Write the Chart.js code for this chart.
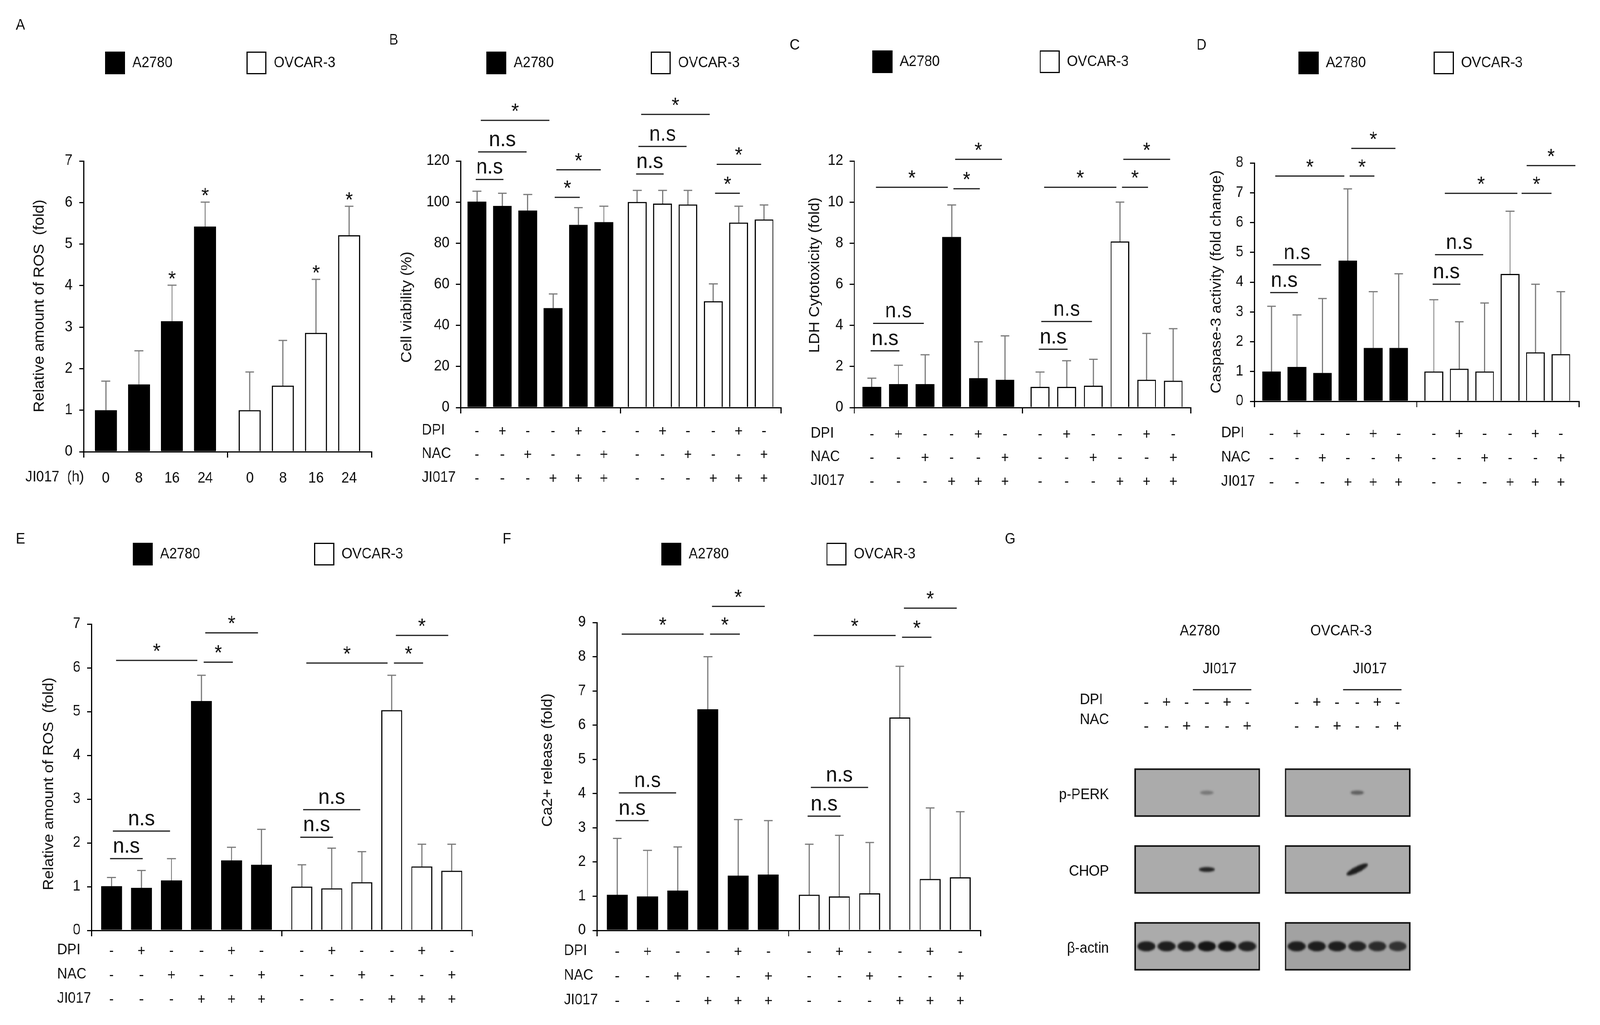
<!DOCTYPE html>
<html><head><meta charset="utf-8">
<script src="https://cdn.jsdelivr.net/npm/chart.js"></script>
<style>
html,body{margin:0;padding:0;background:#fff;overflow:hidden;}
#fig{position:absolute;left:0;top:0;width:4389px;height:2623px;transform-origin:0 0;background:#fff;}
#fig canvas{position:absolute;}
</style>
</head><body>
<div id="fig"></div>
<script>
// ================= DATA =================
const cellLines = ['A2780', 'OVCAR-3'];

// Panel A: ROS time course
const timeLabels = ['0', '8', '16', '24'];
const timeRowTitle = 'JI017  (h)';
const rosTimeTicks = [0, 1, 2, 3, 4, 5, 6, 7];
const rosTimeA2780 = [1.0, 1.62, 3.14, 5.42];
const rosTimeA2780SD = [0.70, 0.81, 0.87, 0.59];
const rosTimeOVCAR3 = [1.0, 1.59, 2.86, 5.21];
const rosTimeOVCAR3SD = [0.92, 1.09, 1.29, 0.70];
const rosTimeSig = ['', '', '*', '*'];

// Treatment table (B-F, G)
const treatmentNames = ['DPI', 'NAC', 'JI017'];
const dpiRow = ['-', '+', '-', '-', '+', '-'];
const nacRow = ['-', '-', '+', '-', '-', '+'];
const ji017Row = ['-', '-', '-', '+', '+', '+'];

// Panel B: cell viability (%)
const viabilityTicks = [0, 20, 40, 60, 80, 100, 120];
const viabilityA2780 = [100.2, 98.1, 95.9, 48.4, 88.9, 90.2];
const viabilityA2780SD = [5.1, 6.2, 7.8, 6.9, 8.4, 7.8];
const viabilityOVCAR3 = [100.0, 99.2, 98.8, 51.7, 90.0, 91.5];
const viabilityOVCAR3SD = [5.7, 6.5, 6.9, 8.5, 8.0, 7.1];
const viabilitySig = [
  [0, 0, 1, 111, 'n.s'], [0, 0, 2, 124.4, 'n.s'], [0, 0, 3, 139.8, '*'], [0, 3, 4, 102.3, '*'], [0, 3, 5, 115.7, '*'],
  [1, 0, 1, 113.7, 'n.s'], [1, 0, 2, 127.1, 'n.s'], [1, 0, 3, 142.7, '*'], [1, 3, 4, 104.3, '*'], [1, 3, 5, 118.4, '*']];

// Panel C: LDH cytotoxicity (fold)
const ldhTicks = [0, 2, 4, 6, 8, 10, 12];
const ldhA2780 = [1.0, 1.14, 1.14, 8.3, 1.43, 1.35];
const ldhA2780SD = [0.43, 0.92, 1.43, 1.56, 1.77, 2.14];
const ldhOVCAR3 = [1.0, 1.0, 1.06, 8.08, 1.35, 1.3];
const ldhOVCAR3SD = [0.73, 1.28, 1.29, 1.92, 2.26, 2.54];
const ldhSig = [
  [0, 0, 1, 2.76, 'n.s'], [0, 0, 2, 4.1, 'n.s'], [0, 0, 3, 10.72, '*'], [0, 3, 4, 10.65, '*'], [0, 3, 5, 12.08, '*'],
  [1, 0, 1, 2.84, 'n.s'], [1, 0, 2, 4.19, 'n.s'], [1, 0, 3, 10.72, '*'], [1, 3, 4, 10.72, '*'], [1, 3, 5, 12.08, '*']];

// Panel D: caspase-3 activity (fold change)
const caspaseTicks = [0, 1, 2, 3, 4, 5, 6, 7, 8];
const caspaseA2780 = [1.0, 1.15, 0.95, 4.72, 1.79, 1.79];
const caspaseA2780SD = [2.19, 1.75, 2.5, 2.41, 1.89, 2.49];
const caspaseOVCAR3 = [1.0, 1.09, 1.0, 4.27, 1.64, 1.58];
const caspaseOVCAR3SD = [2.41, 1.58, 2.3, 2.11, 2.29, 2.1];
const caspaseSig = [
  [0, 0, 1, 3.65, 'n.s'], [0, 0, 2, 4.58, 'n.s'], [0, 0, 3, 7.56, '*'], [0, 3, 4, 7.56, '*'], [0, 3, 5, 8.49, '*'],
  [1, 0, 1, 3.93, 'n.s'], [1, 0, 2, 4.92, 'n.s'], [1, 0, 3, 6.98, '*'], [1, 3, 4, 6.98, '*'], [1, 3, 5, 7.91, '*']];

// Panel E: ROS with inhibitors (fold)
const rosTicks = [0, 1, 2, 3, 4, 5, 6, 7];
const rosA2780 = [1.01, 0.97, 1.14, 5.24, 1.6, 1.5];
const rosA2780SD = [0.2, 0.4, 0.5, 0.59, 0.3, 0.81];
const rosOVCAR3 = [1.0, 0.96, 1.1, 5.03, 1.46, 1.36];
const rosOVCAR3SD = [0.5, 0.92, 0.7, 0.8, 0.51, 0.61];
const rosSig = [
  [0, 0, 1, 1.64, 'n.s'], [0, 0, 2, 2.27, 'n.s'], [0, 0, 3, 6.17, '*'], [0, 3, 4, 6.13, '*'], [0, 3, 5, 6.8, '*'],
  [1, 0, 1, 2.13, 'n.s'], [1, 0, 2, 2.76, 'n.s'], [1, 0, 3, 6.11, '*'], [1, 3, 4, 6.11, '*'], [1, 3, 5, 6.74, '*']];

// Panel F: Ca2+ release (fold)
const calciumTicks = [0, 1, 2, 3, 4, 5, 6, 7, 8, 9];
const calciumA2780 = [1.04, 0.99, 1.16, 6.46, 1.6, 1.63];
const calciumA2780SD = [1.65, 1.35, 1.28, 1.54, 1.64, 1.58];
const calciumOVCAR3 = [1.04, 0.99, 1.08, 6.22, 1.5, 1.55];
const calciumOVCAR3SD = [1.48, 1.79, 1.49, 1.5, 2.08, 1.92];
const calciumSig = [
  [0, 0, 1, 3.21, 'n.s'], [0, 0, 2, 4.02, 'n.s'], [0, 0, 3, 8.66, '*'], [0, 3, 4, 8.66, '*'], [0, 3, 5, 9.47, '*'],
  [1, 0, 1, 3.34, 'n.s'], [1, 0, 2, 4.18, 'n.s'], [1, 0, 3, 8.62, '*'], [1, 3, 4, 8.57, '*'], [1, 3, 5, 9.42, '*']];

// Panel G: western blot band intensities (0 = no band)
const blotProteins = ['p-PERK', 'CHOP', 'β-actin'];
const pPERK_A2780 = [0, 0, 0, 0.35, 0, 0];
const pPERK_OVCAR3 = [0, 0, 0, 0.5, 0, 0];
const CHOP_A2780 = [0, 0, 0, 0.9, 0, 0];
const CHOP_OVCAR3 = [0, 0, 0, 0.95, 0, 0];
const actin_A2780 = [0.95, 0.95, 0.95, 1.0, 1.0, 0.92];
const actin_OVCAR3 = [0.95, 0.95, 0.95, 0.9, 0.85, 0.8];

// ================= STYLE / LAYOUT =================
const FONT = "'Liberation Sans', Arial, Helvetica, sans-serif";
const TXT = '#111111';
Chart.defaults.font.family = FONT;
Chart.defaults.font.size = 38;
Chart.defaults.color = TXT;
Chart.defaults.animation = false;

// The figure is laid out on a 4389 x 2623 design grid and fitted to the viewport.
const FIG_W = 4389, FIG_H = 2623;
const fig = document.getElementById('fig');
const vw = window.innerWidth || FIG_W, vh = window.innerHeight || FIG_H;
let SX = vw / FIG_W, SY = vh / FIG_H;
if (Math.abs(SX - 1) < 0.002) SX = 1;
if (Math.abs(SY - 1) < 0.002) SY = 1;
fig.style.transform = 'scale(' + SX + ',' + SY + ')';
const DPR = 1;

const LAYOUT = {
  A: { box: [0, 0, 1060, 1290], area: [229, 412, 1019, 1156], off: 0.62, step: 0.92, barW: 60, hx: 130, xPad: 31, lineH: 46,
       rowTitleX: 70, legend: [288, 132, 676], letter: ['A', 56, 66], yTitle: [109, 783] },
  B: { box: [1040, 0, 1140, 1290], area: [1263, 412, 2142, 1043], off: 0.62, step: 0.95, barW: 51, hx: 240, xPad: 16, lineH: 60.5,
       rowTitleX: 1157, legend: [1334, 132, 1785], letter: ['B', 1080, 104], yTitle: [1117, 786] },
  C: { box: [2150, 0, 1140, 1290], area: [2343, 412, 3279, 1043], off: 0.63, step: 0.95, barW: 51, hx: 240, xPad: 24, lineH: 60.5,
       rowTitleX: 2224, legend: [2393, 129, 2852], letter: ['C', 2180, 117], yTitle: [2236, 704] },
  D: { box: [3260, 0, 1129, 1290], area: [3441, 417, 4331, 1027], off: 0.635, step: 0.94, barW: 51, hx: 240, xPad: 39, lineH: 62,
       rowTitleX: 3350, legend: [3562, 132, 3933], letter: ['D', 3296, 117], yTitle: [3338, 721],
       bracketEnds: { '1:0-3': [0.44, 3.29], '1:3-4': [3.46, 4.63], '1:3-5': [3.66, 5.57] } },
  E: { box: [0, 1290, 1340, 1333], area: [251, 1597, 1295, 2381], off: 0.63, step: 0.946, barW: 57, hx: 235, xPad: 8, lineH: 62,
       rowTitleX: 157, legend: [364, 1389, 862], letter: ['E', 56, 1381], yTitle: [135, 2006] },
  F: { box: [1340, 1290, 1400, 1333], area: [1637, 1593, 2690, 2381], off: 0.64, step: 0.945, barW: 57, hx: 235, xPad: 9, lineH: 63,
       rowTitleX: 1547, legend: [1814, 1389, 2267], letter: ['F', 1390, 1381], yTitle: [1503, 1945] },
  G: { box: [2740, 1290, 1649, 1333], area: [3114, 1930, 3867, 2520], xMin: -0.55, xMax: 13.05, groupShift: 7.45,
       letter: ['G', 2771, 1381] }
};

function mkCanvas(box) {
  const c = document.createElement('canvas');
  c.style.left = box[0] + 'px'; c.style.top = box[1] + 'px';
  c.style.width = box[2] + 'px'; c.style.height = box[3] + 'px';
  c.width = box[2]; c.height = box[3];
  fig.appendChild(c);
  return c;
}
function drawText(ctx, s, x, y, o) {
  o = o || {};
  ctx.save();
  ctx.font = (o.weight || 'normal') + ' ' + (o.size || 38) + 'px ' + FONT;
  ctx.fillStyle = o.color || TXT;
  ctx.textAlign = o.align || 'left';
  ctx.textBaseline = o.baseline || 'middle';
  ctx.translate(x, y);
  if (o.rot) ctx.rotate(o.rot);
  ctx.fillText(s, 0, 0);
  ctx.restore();
}
function seg(ctx, x1, y1, x2, y2, color, w) {
  ctx.save();
  ctx.strokeStyle = color; ctx.lineWidth = w; ctx.lineCap = 'butt';
  ctx.beginPath(); ctx.moveTo(x1, y1); ctx.lineTo(x2, y2); ctx.stroke();
  ctx.restore();
}
// bracket ends in bar-index units
function bracketSpan(f, t) {
  const span = t - f;
  if (f === 0) return [f - 0.05 + 0.1 * (span - 1), t + 0.04 - 0.09 * (span - 1)];
  return [f + 0.07 + 0.06 * (span - 1), t + 0.05 - 0.17 * (span - 1)];
}

function barPanel(P, L) {
  const [bx, by, bw, bh] = L.box;
  const [al, at, ar, ab] = L.area;
  const n = P.rows[0].length;
  const pos = (g, i) => g * n + L.off + i * L.step;
  const YW = 100, HX = L.hx, XTL = 15;
  const tickVals = [0, n, 2 * n];
  const labels = new Map();
  for (let g = 0; g < 2; g++) for (let i = 0; i < n; i++) {
    const v = pos(g, i);
    tickVals.push(v);
    labels.set(v, P.rows.length === 1 ? P.rows[0][i] : P.rows.map(r => r[i]));
  }
  tickVals.sort((a, b) => a - b);
  const isBound = v => v === 0 || v === n || v === 2 * n;
  const series = [P.a, P.o];
  const cv = mkCanvas(L.box);
  const loc = (x, y) => [x - bx, y - by];

  new Chart(cv, {
    type: 'bar',
    data: {
      datasets: series.map((s, g) => ({
        label: cellLines[g],
        data: s.v.map((y, i) => ({ x: pos(g, i), y: y })),
        sd: s.sd,
        backgroundColor: g ? '#ffffff' : '#000000',
        borderColor: '#000000', borderWidth: 3, borderSkipped: 'bottom',
        barThickness: L.barW, grouped: false
      }))
    },
    options: {
      responsive: false, animation: false, devicePixelRatio: DPR,
      layout: { padding: { left: al - bx - YW, right: bx + bw - ar, top: at - by, bottom: by + bh - ab - HX } },
      plugins: { legend: { display: false }, tooltip: { enabled: false } },
      scales: {
        x: {
          type: 'linear', min: 0, max: 2 * n, offset: false,
          afterFit: s => { s.height = HX; },
          afterBuildTicks: s => { s.ticks = tickVals.map(value => ({ value })); },
          border: { display: true, color: '#000', width: 3 },
          grid: { display: true, offset: false, drawOnChartArea: false, drawTicks: true, tickLength: XTL, lineWidth: 3,
                  color: '#000', tickColor: c => (c.tick && isBound(c.tick.value)) ? '#000' : 'rgba(0,0,0,0)' },
          ticks: { autoSkip: false, maxRotation: 0, minRotation: 0, padding: L.xPad, color: TXT,
                   font: { size: 38, lineHeight: L.lineH + 'px' },
                   callback: v => labels.has(v) ? labels.get(v) : '' }
        },
        y: {
          type: 'linear', min: P.yt[0], max: P.yt[P.yt.length - 1],
          afterFit: s => { s.width = YW; },
          border: { display: true, color: '#000', width: 3 },
          grid: { display: true, drawOnChartArea: false, drawTicks: true, tickLength: 12, lineWidth: 3, color: '#000' },
          ticks: { stepSize: P.yt[1] - P.yt[0], padding: 18, color: TXT, font: { size: 38 } }
        }
      }
    },
    plugins: [{
      id: 'decor',
      beforeDatasetsDraw(chart) {
        const ctx = chart.ctx, ys = chart.scales.y;
        chart.data.datasets.forEach((ds, d) => {
          chart.getDatasetMeta(d).data.forEach((el, i) => {
            const top = ys.getPixelForValue(ds.data[i].y + ds.sd[i]);
            seg(ctx, el.x, el.y, el.x, top, '#7a7a7a', 3);
            seg(ctx, el.x - 12, top, el.x + 12, top, '#7a7a7a', 3);
          });
        });
      },
      afterDraw(chart) {
        const ctx = chart.ctx, xs = chart.scales.x, ys = chart.scales.y;
        const X = v => xs.getPixelForValue(v), Y = v => ys.getPixelForValue(v);
        (P.sig || []).forEach(([g, f, t, yv, lab]) => {
          const key = g + ':' + f + '-' + t;
          const [u1, u2] = (L.bracketEnds && L.bracketEnds[key]) || bracketSpan(f, t);
          const x1 = X(pos(g, u1)), x2 = X(pos(g, u2)), y = Y(yv);
          seg(ctx, x1, y, x2, y, '#1a1a1a', 3);
          if (lab === '*') drawText(ctx, '*', (x1 + x2) / 2, y - 6, { size: 54, align: 'center', baseline: 'alphabetic' });
          else drawText(ctx, lab, (x1 + x2) / 2, y - 15, { size: 55, align: 'center', baseline: 'alphabetic' });
        });
        if (P.stars) {
          chart.data.datasets.forEach((ds, d) => {
            chart.getDatasetMeta(d).data.forEach((el, i) => {
              if (P.stars[i]) drawText(ctx, P.stars[i], el.x, Y(ds.data[i].y + ds.sd[i]) + 1, { size: 54, align: 'center', baseline: 'alphabetic' });
            });
          });
        }
        const [lx, ly, lx2] = L.legend;
        [[lx, '#000000'], [lx2, '#ffffff']].forEach(([x, col], g) => {
          const [px, py] = loc(x, ly);
          ctx.save();
          ctx.fillStyle = col; ctx.fillRect(px, py, 55, 58);
          ctx.strokeStyle = '#000'; ctx.lineWidth = 3; ctx.strokeRect(px + 1.5, py + 1.5, 52, 55);
          ctx.restore();
          drawText(ctx, cellLines[g], px + 75, py + 30, { size: 38 });
        });
        const [lt, ltx, lty] = L.letter;
        const [qx, qy] = loc(ltx, lty);
        drawText(ctx, lt, qx, qy, { size: 38, align: 'center' });
        const [tx, ty] = loc(L.yTitle[0], L.yTitle[1]);
        drawText(ctx, P.yTitle, tx, ty, { size: 40, align: 'center', rot: -Math.PI / 2 });
        const y0 = xs.top + XTL + L.xPad + L.lineH / 2;
        P.rowTitles.forEach((rt, k) => {
          drawText(ctx, rt, L.rowTitleX - bx, y0 + k * L.lineH - 3, { size: 38 });
        });
      }
    }]
  });
}

function blotPanel(L) {
  const [bx, by, bw, bh] = L.box;
  const [al, at, ar, ab] = L.area;
  const lane = (g, i) => g * L.groupShift + i;
  const rowsData = [[pPERK_A2780, pPERK_OVCAR3], [CHOP_A2780, CHOP_OVCAR3], [actin_A2780, actin_OVCAR3]];
  const bandSize = [{ w: 40, h: 12 }, { w: 44, h: 13 }, { w: 50, h: 26 }];
  const pts = [];
  rowsData.forEach((pair, ri) => pair.forEach((arr, g) => arr.forEach((a, i) => {
    if (a > 0) pts.push({ x: lane(g, i), y: ri + 0.5, a: a, ri: ri, g: g });
  })));
  const cache = {};
  function bandImg(p) {
    const smear = (p.ri === 1 && p.g === 1);
    const st = bandSize[p.ri];
    const w = smear ? 64 : st.w * (0.85 + 0.15 * p.a), h = smear ? 16 : st.h * (0.8 + 0.2 * p.a);
    const key = p.ri + '_' + p.g + '_' + p.a;
    if (cache[key]) return cache[key];
    const pad = 10;
    const c = document.createElement('canvas');
    c.width = Math.ceil(w + 2 * pad); c.height = Math.ceil(h + 2 * pad);
    const g = c.getContext('2d');
    g.filter = 'blur(2.5px)';
    g.fillStyle = 'rgba(22,22,22,' + p.a + ')';
    g.beginPath(); g.ellipse(c.width / 2, c.height / 2, w / 2, h / 2, 0, 0, Math.PI * 2); g.fill();
    cache[key] = c;
    return c;
  }
  const cv = mkCanvas(L.box);
  const loc = (x, y) => [x - bx, y - by];
  new Chart(cv, {
    type: 'scatter',
    data: {
      datasets: [{
        data: pts, pointRadius: 5,
        pointStyle: c => c.raw ? bandImg(c.raw) : 'circle',
        rotation: c => (c.raw && c.raw.ri === 1 && c.raw.g === 1) ? -25 : 0,
        backgroundColor: 'rgba(0,0,0,0)', borderColor: 'rgba(0,0,0,0)'
      }]
    },
    options: {
      responsive: false, animation: false, devicePixelRatio: DPR,
      layout: { padding: { left: al - bx, right: bx + bw - ar, top: at - by, bottom: by + bh - ab } },
      plugins: { legend: { display: false }, tooltip: { enabled: false } },
      scales: {
        x: { type: 'linear', min: L.xMin, max: L.xMax, display: false },
        y: { type: 'linear', min: 0, max: 3, reverse: true, display: false }
      }
    },
    plugins: [{
      id: 'blot',
      beforeDatasetsDraw(chart) {
        const ctx = chart.ctx, xs = chart.scales.x, ys = chart.scales.y;
        for (let r = 0; r < 3; r++) for (let g = 0; g < 2; g++) {
          const x1 = xs.getPixelForValue(lane(g, 0) - 0.55), x2 = xs.getPixelForValue(lane(g, 5) + 0.6);
          const y1 = ys.getPixelForValue(r + 0.5 - 0.305), y2 = ys.getPixelForValue(r + 0.5 + 0.305);
          ctx.save();
          ctx.fillStyle = r === 2 && g === 1 ? '#a2a2a2' : '#ababab';
          ctx.fillRect(x1, y1, x2 - x1, y2 - y1);
          ctx.strokeStyle = '#111'; ctx.lineWidth = 4;
          ctx.strokeRect(x1, y1, x2 - x1, y2 - y1);
          ctx.restore();
        }
      },
      afterDraw(chart) {
        const ctx = chart.ctx, xs = chart.scales.x, ys = chart.scales.y;
        const X = v => xs.getPixelForValue(v);
        const [lt, ltx, lty] = L.letter;
        const [qx, qy] = loc(ltx, lty);
        drawText(ctx, lt, qx, qy, { size: 38, align: 'center' });
        const titleLane = [2.65, 2.2];
        for (let g = 0; g < 2; g++) {
          drawText(ctx, cellLines[g], X(lane(g, titleLane[g])), 1616 - by, { size: 38, align: 'center' });
          drawText(ctx, treatmentNames[2], X(lane(g, 3.63)), 1713 - by, { size: 38, align: 'center' });
          seg(ctx, X(lane(g, 2.3)), 1765 - by, X(lane(g, 5.2)), 1765 - by, '#111', 3);
          for (let i = 0; i < 6; i++) {
            drawText(ctx, dpiRow[i], X(lane(g, i)), 1799 - by, { size: 40, align: 'center' });
            drawText(ctx, nacRow[i], X(lane(g, i)), 1860 - by, { size: 40, align: 'center' });
          }
        }
        drawText(ctx, treatmentNames[0], 2962 - bx, 1792 - by, { size: 38 });
        drawText(ctx, treatmentNames[1], 2962 - bx, 1843 - by, { size: 38 });
        blotProteins.forEach((nm, r) => {
          drawText(ctx, nm, 3042 - bx, ys.getPixelForValue(r + 0.5) + 6, { size: 38, align: 'right' });
        });
      }
    }]
  });
}

const treatRows = [dpiRow, nacRow, ji017Row];
barPanel({ rows: [timeLabels], rowTitles: [timeRowTitle], yt: rosTimeTicks, yTitle: 'Relative amount of ROS  (fold)',
  a: { v: rosTimeA2780, sd: rosTimeA2780SD }, o: { v: rosTimeOVCAR3, sd: rosTimeOVCAR3SD }, stars: rosTimeSig }, LAYOUT.A);
barPanel({ rows: treatRows, rowTitles: treatmentNames, yt: viabilityTicks, yTitle: 'Cell viability (%)',
  a: { v: viabilityA2780, sd: viabilityA2780SD }, o: { v: viabilityOVCAR3, sd: viabilityOVCAR3SD }, sig: viabilitySig }, LAYOUT.B);
barPanel({ rows: treatRows, rowTitles: treatmentNames, yt: ldhTicks, yTitle: 'LDH Cytotoxicity (fold)',
  a: { v: ldhA2780, sd: ldhA2780SD }, o: { v: ldhOVCAR3, sd: ldhOVCAR3SD }, sig: ldhSig }, LAYOUT.C);
barPanel({ rows: treatRows, rowTitles: treatmentNames, yt: caspaseTicks, yTitle: 'Caspase-3 activity (fold change)',
  a: { v: caspaseA2780, sd: caspaseA2780SD }, o: { v: caspaseOVCAR3, sd: caspaseOVCAR3SD }, sig: caspaseSig }, LAYOUT.D);
barPanel({ rows: treatRows, rowTitles: treatmentNames, yt: rosTicks, yTitle: 'Relative amount of ROS  (fold)',
  a: { v: rosA2780, sd: rosA2780SD }, o: { v: rosOVCAR3, sd: rosOVCAR3SD }, sig: rosSig }, LAYOUT.E);
barPanel({ rows: treatRows, rowTitles: treatmentNames, yt: calciumTicks, yTitle: 'Ca2+ release (fold)',
  a: { v: calciumA2780, sd: calciumA2780SD }, o: { v: calciumOVCAR3, sd: calciumOVCAR3SD }, sig: calciumSig }, LAYOUT.F);
blotPanel(LAYOUT.G);
</script>
</body></html>
